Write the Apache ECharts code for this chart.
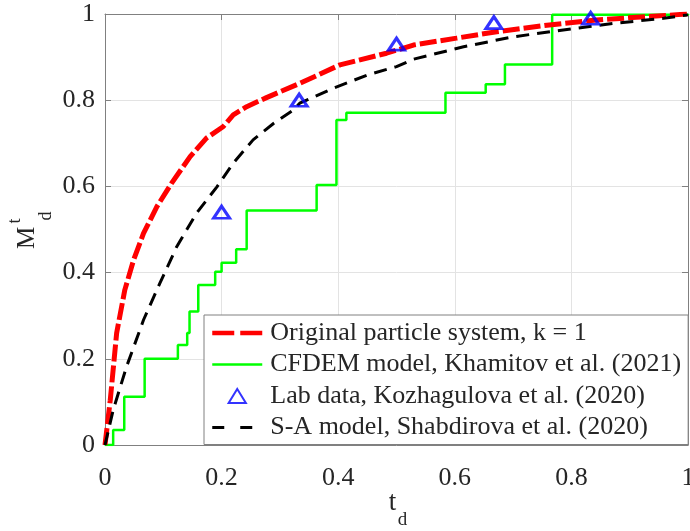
<!DOCTYPE html>
<html>
<head>
<meta charset="utf-8">
<script src="https://cdn.jsdelivr.net/npm/echarts@6/dist/echarts.min.js"></script>
<style>
html,body{margin:0;padding:0;background:#fff;}
#chart{width:690px;height:531px;}
</style>
</head>
<body>
<div id="chart"></div>
<script>
// Original particle system, k = 1 (red dashed)
const redX = [0, 0.009, 0.02, 0.034, 0.049, 0.066, 0.089, 0.114, 0.146, 0.174, 0.203, 0.22, 0.243, 0.277, 0.334, 0.403, 0.483, 0.529, 0.603, 0.672, 0.758, 0.843, 0.929, 1.0];
const redY = [0, 0.104, 0.26, 0.36, 0.429, 0.491, 0.553, 0.607, 0.669, 0.712, 0.739, 0.766, 0.785, 0.806, 0.839, 0.882, 0.909, 0.928, 0.944, 0.959, 0.974, 0.986, 0.994, 1.0];
// CFDEM model (green step)
const greenX = [0, 0.014, 0.033, 0.068, 0.125, 0.141, 0.145, 0.16, 0.189, 0.2, 0.225, 0.243, 0.363, 0.397, 0.414, 0.584, 0.653, 0.686, 0.767, 1.0];
const greenY = [0, 0.035, 0.112, 0.2, 0.232, 0.26, 0.31, 0.371, 0.402, 0.423, 0.454, 0.544, 0.603, 0.754, 0.771, 0.817, 0.837, 0.883, 0.998, 1.0];
// Lab data (blue triangles)
const labX = [0.2, 0.333, 0.5, 0.667, 0.833];
const labY = [0.54, 0.80, 0.93, 0.98, 0.99];
// S-A model (black dashed)
const blackX = [0, 0.014, 0.037, 0.066, 0.094, 0.123, 0.157, 0.192, 0.22, 0.254, 0.289, 0.323, 0.334, 0.392, 0.449, 0.5, 0.529, 0.615, 0.7, 0.786, 0.872, 0.958, 1.0];
const blackY = [0, 0.081, 0.182, 0.29, 0.375, 0.46, 0.538, 0.599, 0.654, 0.708, 0.746, 0.777, 0.793, 0.828, 0.858, 0.878, 0.895, 0.924, 0.947, 0.963, 0.978, 0.99, 0.998];

const ticks = [0, 0.2, 0.4, 0.6, 0.8, 1];
const names = ['Original particle system, k = 1', 'CFDEM model, Khamitov et al. (2021)', 'Lab data, Kozhagulova et al. (2020)', 'S-A model, Shabdirova et al. (2020)'];

const zip = (a, b) => a.map((v, i) => [v, b[i]]);
const fmt = v => String(v);
const FONT = '"Liberation Serif", "Times New Roman", serif';
const AX = '#808080';
const TXT = '#262626';

const chart = echarts.init(document.getElementById('chart'), null, {renderer: 'canvas'});

const baseAxis = {min: 0, max: 1, interval: 0.2, type: 'value'};

chart.setOption({
  animation: false,
  backgroundColor: '#fff',
  grid: {left: 105, right: 2, top: 14, bottom: 86, outerBoundsMode: 'none'},
  xAxis: [
    Object.assign({}, baseAxis, {
      position: 'bottom',
      axisLine: {show: true, onZero: false, lineStyle: {color: AX, width: 1}},
      axisTick: {show: true, inside: true, length: 6, lineStyle: {color: AX}},
      axisLabel: {show: true, margin: 20, color: TXT, fontFamily: FONT, fontSize: 26, formatter: fmt, hideOverlap: false},
      splitLine: {show: true, lineStyle: {color: '#e3e3e3', width: 1}}
    }),
    Object.assign({}, baseAxis, {
      position: 'top',
      axisLine: {show: true, onZero: false, lineStyle: {color: AX, width: 1}},
      axisTick: {show: true, inside: true, length: 6, lineStyle: {color: AX}},
      axisLabel: {show: false},
      splitLine: {show: false}
    })
  ],
  yAxis: [
    Object.assign({}, baseAxis, {
      position: 'left',
      axisLine: {show: true, onZero: false, lineStyle: {color: AX, width: 1}},
      axisTick: {show: true, inside: true, length: 6, lineStyle: {color: AX}},
      axisLabel: {show: true, margin: 10, color: TXT, fontFamily: FONT, fontSize: 26, formatter: fmt, hideOverlap: false},
      splitLine: {show: true, lineStyle: {color: '#e3e3e3', width: 1}}
    }),
    Object.assign({}, baseAxis, {
      position: 'right',
      axisLine: {show: true, onZero: false, lineStyle: {color: AX, width: 1}},
      axisTick: {show: true, inside: true, length: 6, lineStyle: {color: AX}},
      axisLabel: {show: false},
      splitLine: {show: false}
    })
  ],
  legend: {
    show: true,
    orient: 'vertical',
    left: 204, top: 315,
    padding: [4, 7, 3, 6],
    backgroundColor: '#fff',
    borderColor: AX,
    borderWidth: 1,
    borderRadius: 0,
    itemWidth: 50,
    itemHeight: 14,
    itemGap: 3.5,
    symbolKeepAspect: true,
    textStyle: {fontFamily: FONT, fontSize: 26, color: TXT, lineHeight: 26, padding: [2, 0, 0, 3]},
    data: [
      {name: names[0], itemStyle: {opacity: 0}, lineStyle: {width: 4.5, type: [22, 6]}},
      {name: names[1], itemStyle: {opacity: 0}, lineStyle: {width: 2.5}},
      {name: names[2], icon: 'path://M8,0 L16,13 L0,13 Z'},
      {name: names[3], itemStyle: {opacity: 0}, lineStyle: {width: 3, type: [12, 16]}}
    ]
  },
  series: [
    {
      name: names[0], type: 'line', data: zip(redX, redY),
      showSymbol: false, symbol: 'none', smooth: false, z: 3,
      lineStyle: {color: '#ff0000', width: 5, type: [17, 4]},
      itemStyle: {color: '#ff0000'}
    },
    {
      name: names[1], type: 'line', data: zip(greenX, greenY), step: 'end',
      showSymbol: false, symbol: 'none', z: 2,
      lineStyle: {color: '#00ff00', width: 2.5},
      itemStyle: {color: '#00ff00'}
    },
    {
      name: names[2], type: 'scatter', data: zip(labX, labY),
      symbol: 'triangle', symbolSize: [16, 12], z: 5,
      itemStyle: {color: 'rgba(255,255,255,0)', borderColor: '#0000ff', borderWidth: 3}
    },
    {
      name: names[3], type: 'line', data: zip(blackX, blackY),
      showSymbol: false, symbol: 'none', z: 4,
      lineStyle: {color: '#000000', width: 3, type: [13, 8]},
      itemStyle: {color: '#000000'}
    }
  ],
  graphic: [
    {
      type: 'group', x: 27.5, y: 238, rotation: Math.PI / 2,
      children: [
        {type: 'text', x: 0, y: 0, style: {text: 'M', font: '25px ' + FONT, fill: TXT, textAlign: 'center', textVerticalAlign: 'middle'}},
        {type: 'text', x: 17, y: -12, style: {text: 't', font: '18px ' + FONT, fill: TXT, textAlign: 'center', textVerticalAlign: 'middle'}},
        {type: 'text', x: 22, y: 19, style: {text: 'd', font: '18px ' + FONT, fill: TXT, textAlign: 'center', textVerticalAlign: 'middle'}}
      ]
    },
    {type: 'text', x: 392.5, y: 503, style: {text: 't', font: '27px ' + FONT, fill: TXT, textAlign: 'center', textVerticalAlign: 'middle'}},
    {type: 'text', x: 402.5, y: 520, style: {text: 'd', font: '19px ' + FONT, fill: TXT, textAlign: 'center', textVerticalAlign: 'middle'}}
  ]
});
</script>
</body>
</html>
